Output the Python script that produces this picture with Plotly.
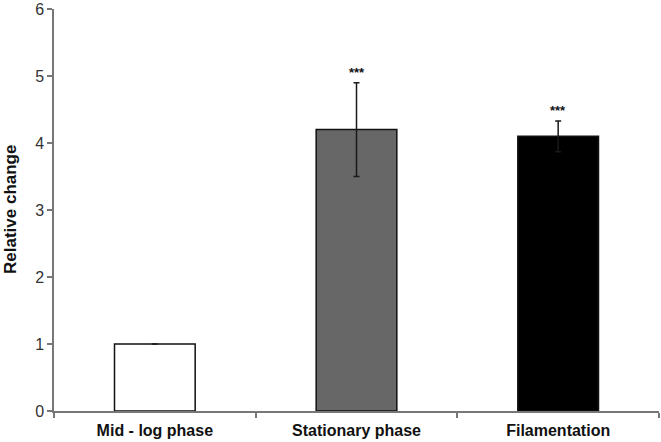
import plotly.graph_objects as go

categories = ["Mid - log phase", "Stationary phase", "Filamentation"]
values = [1.0, 4.2, 4.1]
errors = [None, 0.7, 0.23]
significance = ["", "***", "***"]
bar_colors = ["#ffffff", "#676767", "#000000"]
y_ticks = [0, 1, 2, 3, 4, 5, 6]
y_title = "Relative change"

fig = go.Figure()
fig.add_trace(go.Bar(
    x=categories, y=values,
    width=0.4,
    marker=dict(color=bar_colors, line=dict(color="#111111", width=1.5)),
    error_y=dict(type="data", array=errors, visible=True,
                 color="#1a1a1a", thickness=1.5, width=3),
    showlegend=False,
))

for c, v, e, s in zip(categories, values, errors, significance):
    if s:
        fig.add_annotation(x=c, y=v + e, text="<b>" + s + "</b>", showarrow=False,
                           yanchor="bottom", yshift=1,
                           font=dict(family="Liberation Sans, Arial", size=13, color="#111111"))

fig.add_annotation(x=0, y=0.5, xref="paper", yref="paper", xanchor="center", yanchor="middle",
                   xshift=-44, textangle=-90, showarrow=False,
                   text="<b>" + y_title + "</b>",
                   font=dict(family="Liberation Sans, Arial", size=17, color="#111111"))

fig.update_layout(
    width=661, height=442,
    margin=dict(l=54, r=2, t=9, b=31),
    paper_bgcolor="white", plot_bgcolor="white",
    font=dict(family="Liberation Sans, Arial", color="#222222"),
)
fig.update_xaxes(
    showline=True, linecolor="#777777", linewidth=1.5,
    ticks="outside", tickson="boundaries", ticklen=5, tickcolor="#777777", tickwidth=1.5,
    tickfont=dict(size=16, color="#111111", family="Liberation Sans, Arial"),
    tickprefix="<b>", ticksuffix="</b>", ticklabelstandoff=4,
    showgrid=False, zeroline=False, automargin=False,
)
fig.update_yaxes(
    range=[0, 6], tickvals=y_ticks,
    showline=True, linecolor="#777777", linewidth=1.5,
    ticks="outside", ticklen=5, tickcolor="#777777", tickwidth=1.5,
    tickfont=dict(size=16, color="#333333"),
    showgrid=False, zeroline=False, automargin=False,
)

fig.write_html("out.html", config={"displayModeBar": False},
               post_script="document.body.style.margin='0';")
